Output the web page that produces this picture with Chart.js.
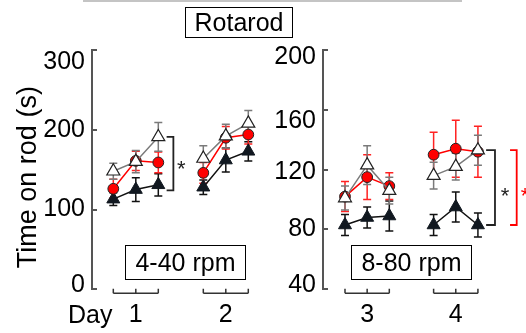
<!DOCTYPE html>
<html>
<head>
<meta charset="utf-8">
<script src="https://cdn.jsdelivr.net/npm/chart.js@4.4.1/dist/chart.umd.min.js"></script>
<style>
  body { margin: 0; background: #fff; font-family: "Liberation Sans", Arial, sans-serif; }
  #wrap { position: relative; width: 526px; height: 333px; overflow: hidden; }
  canvas { position: absolute; top: 0; }
  .box { position: absolute; box-sizing: border-box; border: 1.5px solid #000; display: flex;
         align-items: center; justify-content: center; font-size: 25px; color: #000; z-index: 2; }
  #topline { position: absolute; left: 83px; top: 0; width: 379px; height: 2px; background: #c4c4c4; }
  #day { position: absolute; left: 68px; top: 302px; font-size: 25px; line-height: 25px; color: #000; }
</style>
</head>
<body>
<div id="wrap">
  <div id="topline"></div>
  <canvas id="left" width="262" height="333" style="left:0"></canvas>
  <canvas id="right" width="264" height="333" style="left:262px"></canvas>
  <div class="box" style="left:185px; top:7px; width:108px; height:31px">Rotarod</div>
  <div class="box" style="left:125px; top:245px; width:121px; height:35px">4-40 rpm</div>
  <div class="box" style="left:351px; top:245px; width:121px; height:35px">8-80 rpm</div>
  <div id="day">Day</div>
</div>
<script>
const FONT = '"Liberation Sans", Arial, sans-serif';

// trial positions on x, 3 is the gap between two days
const trialPos = [0, 1, 2, 3, 4, 5, 6];
const dayGroups = [[0, 2], [4, 6]];
const dayTickPos = [1, 5];
const dayNamesLeft = ['1', '2'];
const dayNamesRight = ['3', '4'];

// 4-40 rpm, days 1-2
const openL = [148, 160, 191, null, 164, 192, 208];
const openLErr = [10, 14, 18, null, 16, 15, 16];
const redL = [126, 161, 159, null, 146, 190, 194];
const redLErr = [12, 12, 13, null, 13, 14, 12];
const blackL = [113, 125, 131, null, 128, 162, 173];
const blackLErr = [8, 15, 14, null, 9, 15, 12];

// 8-80 rpm, days 3-4
const openR = [101, 123, 106, null, 116, 122, 133];
const openRErr = [8, 13, 9, null, 9, 9, 10];
const redR = [102, 115, 109, null, 130, 134, 132];
const redRErr = [10, 15, 9, null, 15, 19, 17];
const blackR = [83, 88, 89, null, 83, 95, 83];
const blackRErr = [7, 7, 10, null, 7, 10, 8];

const toXY = vals => trialPos.map((x, i) => ({ x: x, y: vals[i] }));

// error bars behind the markers
const errorBars = {
  id: 'errorBars',
  beforeDatasetsDraw(chart) {
    const ctx = chart.ctx, yScale = chart.scales.y;
    for (let i = chart.data.datasets.length - 1; i >= 0; i--) {
      const ds = chart.data.datasets[i];
      const meta = chart.getDatasetMeta(i);
      ctx.save();
      ctx.strokeStyle = ds.errColor;
      ctx.lineWidth = 1.5;
      meta.data.forEach((pt, j) => {
        const v = ds.data[j].y;
        if (v == null) return;
        const y1 = yScale.getPixelForValue(v + ds.errors[j]);
        const y2 = yScale.getPixelForValue(v - ds.errors[j]);
        ctx.beginPath();
        ctx.moveTo(pt.x, y1); ctx.lineTo(pt.x, y2);
        ctx.moveTo(pt.x - 4, y1); ctx.lineTo(pt.x + 4, y1);
        ctx.moveTo(pt.x - 4, y2); ctx.lineTo(pt.x + 4, y2);
        ctx.stroke();
      });
      ctx.restore();
    }
  }
};

// day brackets under the axis and the significance brackets
const brackets = {
  id: 'brackets',
  afterDraw(chart, args, opts) {
    const { ctx, chartArea } = chart;
    const x = chart.scales.x, y = chart.scales.y;
    const yb = chartArea.bottom + 4;
    ctx.save();
    ctx.strokeStyle = '#333';
    ctx.lineWidth = 1.5;
    dayGroups.forEach(([a, b]) => {
      ctx.beginPath();
      ctx.moveTo(x.getPixelForValue(a), yb);
      ctx.lineTo(x.getPixelForValue(b), yb);
      for (let p = a; p <= b; p++) {
        const px = x.getPixelForValue(p);
        ctx.moveTo(px, yb);
        ctx.lineTo(px, yb - 4.5);
      }
      ctx.stroke();
    });
    (opts.sig || []).forEach(s => {
      const px = x.getPixelForValue(s.x), armPx = x.getPixelForValue(s.x - s.arm);
      const top = y.getPixelForValue(s.from), bot = y.getPixelForValue(s.to);
      ctx.strokeStyle = s.color;
      ctx.lineWidth = 1.8;
      ctx.beginPath();
      ctx.moveTo(armPx, top); ctx.lineTo(px, top); ctx.lineTo(px, bot); ctx.lineTo(armPx, bot);
      ctx.stroke();
      ctx.fillStyle = s.color;
      ctx.font = '22px ' + FONT;
      ctx.textAlign = 'center';
      ctx.textBaseline = 'alphabetic';
      ctx.fillText('*', x.getPixelForValue(s.starX), y.getPixelForValue(s.starY) + 0.57 * 22);
    });
    ctx.restore();
  }
};

function makeChart(id, o) {
  // tick labels in the original sit a little off their ticks; a blank extra line moves them
  const nudge = o.labelNudge || {};
  return new Chart(document.getElementById(id), {
    type: 'line',
    data: {
      datasets: [
        { data: toXY(o.open), errors: o.openErr, errColor: '#7a7a7a',
          borderColor: '#7a7a7a', borderWidth: 1.5, pointStyle: 'triangle', pointRadius: 7.5,
          pointBackgroundColor: '#fff', pointBorderColor: '#222', pointBorderWidth: 1.2 },
        { data: toXY(o.red), errors: o.redErr, errColor: '#ff2222',
          borderColor: '#ff0000', borderWidth: 1.5, pointStyle: 'circle', pointRadius: 5.4,
          pointBackgroundColor: '#ff0000', pointBorderColor: '#222', pointBorderWidth: 1 },
        { data: toXY(o.black), errors: o.blackErr, errColor: '#111',
          borderColor: '#111', borderWidth: 1.5, pointStyle: 'triangle', pointRadius: 7.5,
          pointBackgroundColor: '#111820', pointBorderColor: '#111820', pointBorderWidth: 1 }
      ]
    },
    options: {
      responsive: false,
      animation: false,
      events: [],
      layout: { autoPadding: false, padding: { top: 50, left: 0, right: 0, bottom: 0 } },
      plugins: { legend: { display: false }, tooltip: { enabled: false }, brackets: { sig: o.sig } },
      scales: {
        x: {
          type: 'linear', min: o.xMin, max: o.xMax,
          afterBuildTicks: s => { s.ticks = dayTickPos.map(v => ({ value: v })); },
          ticks: { callback: v => o.dayNames[dayTickPos.indexOf(v)], font: { size: 25, family: FONT },
                   color: '#000', padding: 11, autoSkip: false, maxRotation: 0 },
          grid: { display: false, drawTicks: false },
          border: { display: false },
          afterFit: s => { s.height = 43.7; }
        },
        y: {
          min: o.yMin, max: o.yMax,
          ticks: {
            stepSize: o.yStep, color: '#000', padding: 12,
            callback: v => {
              const n = nudge[v];
              if (!n) return String(v);
              return n > 0 ? ['', String(v)] : [String(v), ''];
            },
            font: c => {
              const n = c.tick ? nudge[c.tick.value] : 0;
              return { size: 25, family: FONT, lineHeight: n ? (2 * Math.abs(n)) + 'px' : 1.2 };
            }
          },
          grid: { drawOnChartArea: false, drawTicks: true, tickLength: -5, color: '#555', lineWidth: 2 },
          border: { color: '#555', width: 2 },
          title: { display: !!o.yTitle, text: o.yTitle || '', font: { size: 27, family: FONT },
                   color: '#000', padding: { top: 12, bottom: 0 } },
          afterFit: s => { s.width = o.yWidth; }
        }
      }
    },
    plugins: [errorBars, brackets]
  });
}

makeChart('left', {
  open: openL, openErr: openLErr, red: redL, redErr: redLErr, black: blackL, blackErr: blackLErr,
  xMin: -0.947, xMax: 6.609, yMin: 0, yMax: 300, yStep: 100, yWidth: 92,
  yTitle: 'Time on rod (s)  ', dayNames: dayNamesLeft,
  labelNudge: { 300: 12, 0: -4 },
  sig: [{ x: 2.67, arm: 0.3, from: 191, to: 124, color: '#222', starX: 3.02, starY: 158 }]
});

makeChart('right', {
  open: openR, openErr: openRErr, red: redR, redErr: redRErr, black: blackR, blackErr: blackRErr,
  xMin: -0.993, xMax: 8.17, yMin: 40, yMax: 200, yStep: 40, yWidth: 61,
  dayNames: dayNamesRight,
  labelNudge: { 200: 7, 160: 11, 120: 2, 40: -4 },
  sig: [
    { x: 6.77, arm: 0.4, from: 133, to: 83, color: '#222', starX: 7.22, starY: 106 },
    { x: 7.75, arm: 0.3, from: 133, to: 83, color: '#ff0000', starX: 8.13, starY: 106 }
  ]
});
</script>
</body>
</html>
